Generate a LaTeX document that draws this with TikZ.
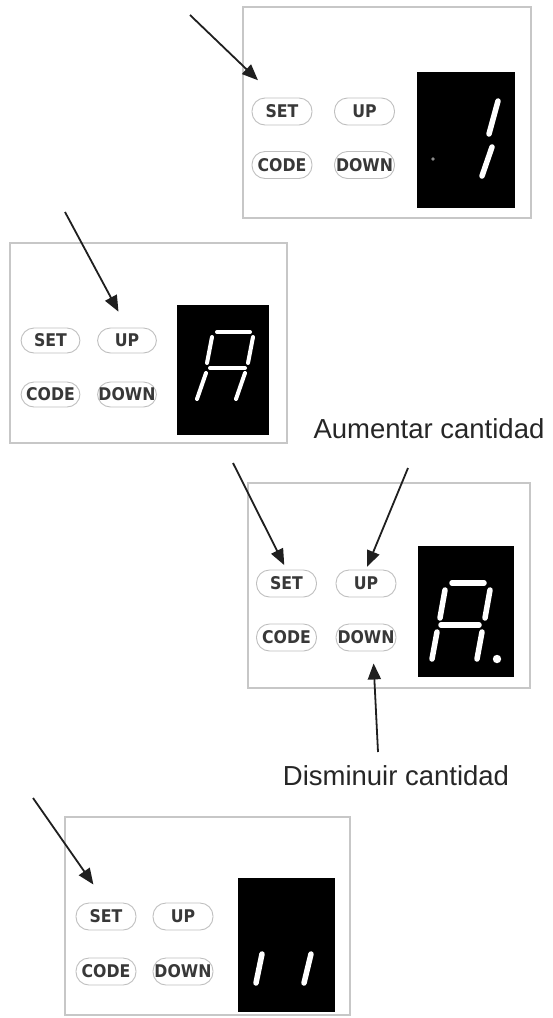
\documentclass[tikz,border=0pt]{standalone}
\usepackage{fontspec}
\setmainfont{Liberation Sans}
\newfontfamily\btnfont{DejaVu Sans Condensed}
\usetikzlibrary{arrows.meta,positioning,calc}

\begin{document}
\begin{tikzpicture}[
    x=1pt, y=-1pt,
    panel/.style={draw=black!22, line width=1.2pt},
    disp/.style={fill=black},
    btn/.style={rectangle, rounded corners=13pt, draw=black!25, line width=0.9pt,
                minimum width=60pt, minimum height=27pt, inner sep=0pt,
                text=black!78, font=\btnfont\bfseries\fontsize{17.5}{18}\selectfont},
    seg/.style={draw=white, line width=5.5pt, line cap=round},
    lbl/.style={text=black!85, font=\fontsize{27.5}{30}\selectfont},
    flow/.style={-{Triangle[length=16pt,width=13pt]}, line width=1.8pt, draw=black!88}
]
\useasboundingbox (0,0) rectangle (552,1018);

% panel 1
\draw[panel] (243,7) rectangle (531,218);
\fill[disp] (417,72) rectangle (515,208);
\draw[seg] (498,101) -- (489,134);
\draw[seg] (492,147) -- (482,176);
\fill[black!45] (433,159) circle (1.8);
\node[btn] (set1) at (282,111.5) {SET};
\node[btn] (up1) at (364.5,111.5) {UP};
\node[btn] (code1) at (282,165) {CODE};
\node[btn] (down1) at (364.5,165) {DOWN};

% panel 2
\draw[panel] (10,243) rectangle (287,443);
\fill[disp] (177,305) rectangle (269,435);
\begin{scope}[seg, line width=4pt]
\draw (217,332) -- (250,332);
\draw (212,337) -- (207,363);
\draw (253,337) -- (248,363);
\draw (210,368) -- (245,368);
\draw (206,373) -- (197,399);
\draw (245,373) -- (236,399);
\end{scope}
\node[btn, minimum width=59pt, minimum height=25pt] (set2) at (50.5,340.5) {SET};
\node[btn, minimum width=59pt, minimum height=25pt] (up2) at (127,340.5) {UP};
\node[btn, minimum width=59pt, minimum height=25pt] (code2) at (50.5,394.5) {CODE};
\node[btn, minimum width=59pt, minimum height=25pt] (down2) at (127,394.5) {DOWN};

% panel 3
\draw[panel] (248,483) rectangle (530,688);
\fill[disp] (418,546) rectangle (514,677);
\draw[seg] (452,583) -- (484,583);
\draw[seg] (445,590) -- (440,618);
\draw[seg] (490,590) -- (485,618);
\draw[seg] (441,625) -- (479,625);
\draw[seg] (437,632) -- (432,659);
\draw[seg] (482,632) -- (477,659);
\fill[white] (497,659) circle (4.2);
\node[btn] (set3) at (286.5,583.5) {SET};
\node[btn] (up3) at (366,583.5) {UP};
\node[btn] (code3) at (286.5,637.5) {CODE};
\node[btn] (down3) at (366,637.5) {DOWN};

% panel 4
\draw[panel] (65,817) rectangle (350,1015);
\fill[disp] (238,878) rectangle (335,1012);
\draw[seg] (262,954) -- (256,983);
\draw[seg] (311,954) -- (304,983);
\node[btn] (set4) at (106,916.5) {SET};
\node[btn] (up4) at (183,916.5) {UP};
\node[btn] (code4) at (106,971.5) {CODE};
\node[btn] (down4) at (183,971.5) {DOWN};

% labels
\node[lbl, anchor=base] (lblup) at (429,438) {Aumentar cantidad};
\node[lbl, anchor=base] (lbldown) at (396,785) {Disminuir cantidad};

% arrows
\coordinate (a1) at (190,15);
\coordinate (a2) at (65,212);
\coordinate (a3s) at (233,463);
\coordinate (a3u) at (408,468);
\coordinate (a3d) at (378,752);
\coordinate (a4) at (33,798);
\draw[flow, shorten >=25pt] (a1) -- ($(set1.north)+(-6,0)$);
\draw[flow, shorten >=18pt] (a2) -- (up2.north);
\draw[flow, shorten >=5pt] (a3s) -- (set3.north);
\draw[flow, shorten >=3pt] (a3u) -- (up3.north);
\draw[flow, shorten >=12pt] (a3d) -- ($(down3.south)+(7,0)$);
\draw[flow, shorten >=22pt] (a4) -- (set4.north);
\end{tikzpicture}
\end{document}
